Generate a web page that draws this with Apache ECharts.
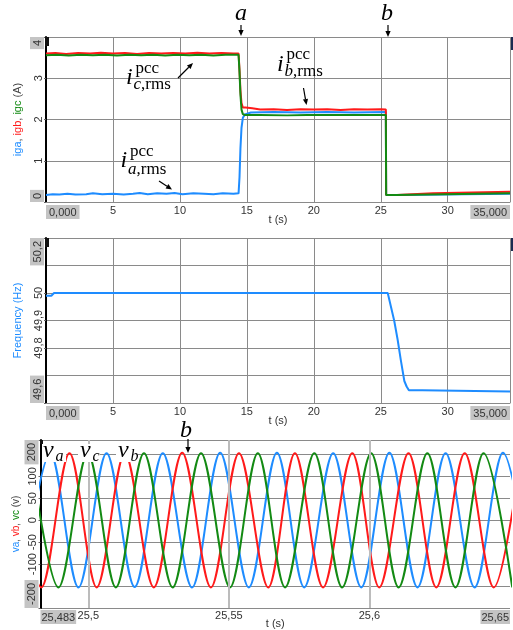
<!DOCTYPE html>
<html><head><meta charset="utf-8">
<script src="https://cdn.jsdelivr.net/npm/echarts@6/dist/echarts.min.js"></script>
<style>html,body{margin:0;padding:0;background:#fff}#c{width:513px;height:630px}</style>
</head><body><div id="c"></div>
<script>
// ---------- DATA ----------
// Panel 1: rms currents at PCC (A) vs time (s)
const igaData = [[0,0.17],[0.5,0.19],[1,0.18],[1.6,0.2],[2.2,0.18],[3,0.19],[3.5,0.21],[4.2,0.19],[5,0.2],[5.8,0.18],[6.5,0.2],[7,0.22],[7.6,0.19],[8.3,0.21],[9,0.2],[9.6,0.22],[10.2,0.19],[11,0.21],[11.8,0.2],[12.5,0.19],[13.2,0.21],[14,0.2],[14.38,0.21],[14.45,0.6],[14.52,1.3],[14.6,1.8],[14.7,2.04],[14.85,2.12],[15.3,2.17],[17,2.18],[19,2.17],[21,2.18],[23,2.17],[25.38,2.18],[25.4,0.17],[26.2,0.17],[26.3,0.2],[34.65,0.2]];
const igbData = [[0,3.6],[0.7,3.61],[1.5,3.59],[2.4,3.61],[3.3,3.6],[4.1,3.62],[5,3.6],[5.9,3.61],[6.8,3.59],[7.7,3.61],[8.6,3.6],[9.5,3.61],[10.4,3.6],[11.3,3.62],[12.2,3.6],[13.1,3.61],[14,3.6],[14.38,3.6],[14.45,3.2],[14.52,2.7],[14.6,2.4],[14.7,2.29],[14.9,2.29],[15.4,2.27],[16,2.24],[17,2.25],[18,2.23],[19,2.25],[20,2.24],[21,2.25],[22,2.23],[23,2.25],[24,2.24],[25,2.25],[25.38,2.24],[25.4,0.17],[26.2,0.17],[26.3,0.21],[28.9,0.21],[29,0.25],[34.65,0.25]];
const igcData = [[0,3.56],[0.8,3.57],[1.7,3.55],[2.6,3.57],[3.5,3.56],[4.4,3.57],[5.3,3.55],[6.2,3.57],[7.1,3.56],[8,3.57],[8.9,3.55],[9.8,3.57],[10.7,3.56],[11.6,3.57],[12.5,3.55],[13.4,3.57],[14.38,3.57],[14.45,3.15],[14.52,2.6],[14.6,2.24],[14.7,2.13],[14.85,2.11],[16,2.11],[18,2.1],[19.5,2.11],[19.6,2.08],[19.7,2.11],[22,2.11],[25.38,2.11],[25.4,0.17],[26.2,0.17],[26.3,0.21],[34.65,0.21]];
// Panel 2: frequency (Hz) vs time (s)
const freqData = [[0,49.99],[0.4,49.99],[0.6,50.0],[25.52,50.0],[25.76,49.95],[26.0,49.9],[26.26,49.83],[26.5,49.755],[26.76,49.68],[26.93,49.66],[27.1,49.646],[28.1,49.646],[28.2,49.642],[34.65,49.642]];
// Panel 3: phase voltages (V) vs time (s) — peaks / troughs
const vaData = [[25.4764,-152],[25.4865,153],[25.4965,-153],[25.5065,153],[25.5165,-152],[25.5265,153],[25.5369,-153],[25.5469,154],[25.5571,-153],[25.5671,154],[25.5768,-153],[25.5871,153],[25.5971,-153],[25.6071,154],[25.6171,-153],[25.6271,153],[25.6374,-153],[25.6475,154],[25.6575,-153]];
const vbData = [[25.4733,153],[25.4833,-153],[25.4933,153],[25.5030,-153],[25.5130,153],[25.5233,-153],[25.5334,154],[25.5436,-153],[25.5536,153],[25.5640,-153],[25.5735,153],[25.5835,-153],[25.5939,153],[25.6035,-153],[25.6139,153],[25.6238,-153],[25.6339,153],[25.6442,-153],[25.6540,153]];
const vcData = [[25.4794,153],[25.4894,-153],[25.4998,153],[25.5098,-153],[25.5198,153],[25.5300,-153],[25.5401,153],[25.5504,-153],[25.5603,153],[25.5700,-153],[25.5804,153],[25.5903,-153],[25.6006,153],[25.6104,-153],[25.6206,153],[25.6306,-153],[25.6406,153],[25.6508,-153]];
// tick values
const tTicks3 = [25.483, 25.5, 25.55, 25.6, 25.65];
const tGrid3 = [25.5, 25.55, 25.6];

// ---------- STYLE ----------
const BLUE='#1e8cff', RED='#ff1a1a', GREEN='#138a13';
const FONT='"Liberation Sans", Arial, sans-serif';
const SERIF='"Liberation Serif", "Times New Roman", serif';
const GRIDC='#8a8a8a';
const mkBox = (pad) => ({box:{backgroundColor:'#c4c4c4', padding:pad, color:'#333', fontSize:11, fontFamily:FONT}});
const boxRich = mkBox([2,3,1,3]);
const comma = v => String(Math.round(v*1000)/1000).replace('.', ',');
const near = (a,b) => Math.abs(a-b) < 1e-6;

function xAxisT(grid, max) {
  return {type:'value', gridIndex:grid, min:0, max:max, interval:5,
    name:'t (s)', nameLocation:'middle', nameGap:12, nameMoveOverlap:false,
    nameTextStyle:{fontFamily:FONT, fontSize:11, color:'#333'},
    axisLine:{lineStyle:{color:GRIDC, width:1}}, axisTick:{show:false},
    splitLine:{show:true, lineStyle:{color:GRIDC, width:1}},
    axisLabel:{fontFamily:FONT, fontSize:11, color:'#333', margin:3, hideOverlap:false,
      showMinLabel:true, showMaxLabel:true, alignMinLabel:'left', alignMaxLabel:'right',
      formatter: v => near(v,0) ? '{box|0,000}' : (near(v,max) ? '{box|35,000}' : comma(v)),
      rich:boxRich}};
}
function yAxisBase(grid, min, max, interval, name, nameRich, minTxt, maxTxt, gap) {
  return {type:'value', gridIndex:grid, min, max, interval,
    name, nameLocation:'middle', nameGap:gap, nameMoveOverlap:false,
    nameTextStyle:{fontFamily:FONT, fontSize:11, rich:nameRich},
    axisLine:{show:true, lineStyle:{color:'#000', width:2}},
    axisTick:{show:true, length:2, lineStyle:{color:'#666'}},
    splitLine:{show:true, lineStyle:{color:GRIDC, width:1}},
    axisLabel:{rotate:90, fontFamily:FONT, fontSize:11, color:'#333', margin:2, hideOverlap:false,
      showMinLabel:true, showMaxLabel:true, alignMinLabel:'left', alignMaxLabel:'right',
      formatter: v => near(v,min) ? '{box|'+minTxt+'}' : (near(v,max) ? '{box|'+maxTxt+'}' : comma(v)),
      rich:boxRich}};
}

// ---------- ANNOTATIONS ----------
const G = [];
function txt(x, y, text, font, align) {
  G.push({type:'text', z:100, style:{x, y, text, font, fill:'#000', textAlign:align||'left', textVerticalAlign:'middle'}});
}
function arrow(x1,y1,x2,y2){
  const dx=x2-x1, dy=y2-y1, L=Math.hypot(dx,dy), ux=dx/L, uy=dy/L, h=6, w=2.6;
  const bx=x2-ux*h, by=y2-uy*h;
  G.push({type:'line', z:100, shape:{x1,y1,x2:bx,y2:by}, style:{stroke:'#000', lineWidth:1.2}});
  G.push({type:'polygon', z:100, shape:{points:[[x2,y2],[bx-uy*w, by+ux*w],[bx+uy*w, by-ux*w]]}, style:{fill:'#000'}});
}
function rect(x,y,w,h,fill){ G.push({type:'rect', z:90, shape:{x,y,width:w,height:h}, style:{fill:fill||'#fff'}}); }
function iLabel(x, base, supBase, subBase, sub) {
  txt(x, base-7.2, 'i', 'italic 24px '+SERIF);
  txt(x+9.5, supBase-5, 'pcc', '17px '+SERIF);
  G.push({type:'text', z:100, style:{x:x+7.5, y:subBase-5, text:'{it|'+sub+'}{rm|,rms}', textVerticalAlign:'middle', fill:'#000',
    rich:{it:{font:'italic 17px '+SERIF, fill:'#000'}, rm:{font:'17px '+SERIF, fill:'#000'}}}});
}
// panel 1
txt(241, 14, 'a', 'italic 24px '+SERIF, 'center');
arrow(241, 25, 241, 36);
txt(387, 14, 'b', 'italic 24px '+SERIF, 'center');
arrow(388, 25, 388, 37);
iLabel(126, 85, 73.5, 90, 'c');
arrow(178, 78, 193, 63);
iLabel(120.5, 168, 156.5, 174.5, 'a');
arrow(159, 181, 172, 189.5);
iLabel(277, 72, 60, 77, 'b');
arrow(303.5, 88, 306.5, 105);
// small cursor marks at plot corners
rect(45, 37, 4, 9, '#111'); rect(511, 37, 2, 13, '#1a2a50');
rect(45, 238, 4, 9, '#111'); rect(511, 238, 2, 13, '#1a2a50');
rect(40, 440, 3, 4, '#111');
// panel 3
rect(42, 444, 24, 18); rect(78, 444, 22, 18); rect(116, 444, 22, 18);
function vLabel(x, sub) {
  txt(x, 450.8, 'v', 'italic 24px '+SERIF);
  txt(x+12.5, 456.7, sub, 'italic 16px '+SERIF);
}
vLabel(43, 'a'); vLabel(80, 'c'); vLabel(118, 'b');
txt(186, 431, 'b', 'italic 24px '+SERIF, 'center');
arrow(188, 439, 188, 453);

// ---------- CHART ----------
const chart = echarts.init(document.getElementById('c'), null, {renderer:'canvas'});
const lineS = (x, y, data, color, w, extra) => Object.assign({type:'line', xAxisIndex:x, yAxisIndex:y, data, showSymbol:false, symbol:'none',
  lineStyle:{color, width:w}, itemStyle:{color}, animation:false}, extra||{});

chart.setOption({
  backgroundColor:'#fff',
  animation:false,
  grid:[
    {left:46, right:0, top:37, height:165},
    {left:46, right:0, top:238, height:165},
    {left:40.5, right:0, top:440, height:170.5}
  ],
  xAxis:[
    xAxisT(0, 34.65),
    xAxisT(1, 34.65),
    {type:'value', gridIndex:2, min:25.483, max:25.65,
      name:'t (s)', nameLocation:'middle', nameGap:10, nameMoveOverlap:false,
      nameTextStyle:{fontFamily:FONT, fontSize:11, color:'#333'},
      axisLine:{lineStyle:{color:GRIDC, width:1}},
      axisTick:{show:false, customValues:tTicks3},
      splitLine:{show:false},
      axisLabel:{fontFamily:FONT, fontSize:11, color:'#333', margin:2, customValues:tTicks3, hideOverlap:false,
        showMinLabel:true, showMaxLabel:true, alignMinLabel:'left', alignMaxLabel:'right',
        formatter: v => near(v,25.483) ? '{box|25,483}' : (near(v,25.65) ? '{box|25,65}' : comma(v)),
        rich:mkBox([2,1,1,1])}}
  ],
  yAxis:[
    yAxisBase(0, 0, 4, 1, '{b|iga}{k|, }{r|igb}{k|, }{g|igc}{k| (A)}',
      {b:{color:BLUE,fontSize:11,fontFamily:FONT}, r:{color:RED,fontSize:11,fontFamily:FONT}, g:{color:GREEN,fontSize:11,fontFamily:FONT}, k:{color:'#444',fontSize:11,fontFamily:FONT}}, '0', '4', 23),
    yAxisBase(1, 49.6, 50.2, 0.1, '{b|Frequency (Hz)}', {b:{color:BLUE,fontSize:11,fontFamily:FONT}}, '49,6', '50,2', 23),
    yAxisBase(2, -200, 183, 50, '{b|va}{k|, }{r|vb}{k|, }{g|vc}{k| (v)}',
      {b:{color:BLUE,fontSize:10,fontFamily:FONT}, r:{color:RED,fontSize:10,fontFamily:FONT}, g:{color:GREEN,fontSize:10,fontFamily:FONT}, k:{color:'#444',fontSize:10,fontFamily:FONT}}, '-200', '200', 19)
  ],
  series:[
    lineS(0,0,igaData,BLUE,2),
    lineS(0,0,igbData,RED,2),
    lineS(0,0,igcData,GREEN,2),
    lineS(1,1,freqData,BLUE,2),
    {type:'line', xAxisIndex:2, yAxisIndex:2, data:[], z:1, silent:true,
      markLine:{silent:true, symbol:['none','none'], label:{show:false}, animation:false,
        lineStyle:{color:'#bcbcbc', width:2, type:'solid'}, emphasis:{disabled:true},
        data: tGrid3.map(t => ({xAxis:t}))}},
    lineS(2,2,vaData,BLUE,2,{smooth:0.33}),
    lineS(2,2,vbData,RED,2,{smooth:0.33}),
    lineS(2,2,vcData,GREEN,2,{smooth:0.33})
  ],
  graphic: G
});
</script></body></html>
